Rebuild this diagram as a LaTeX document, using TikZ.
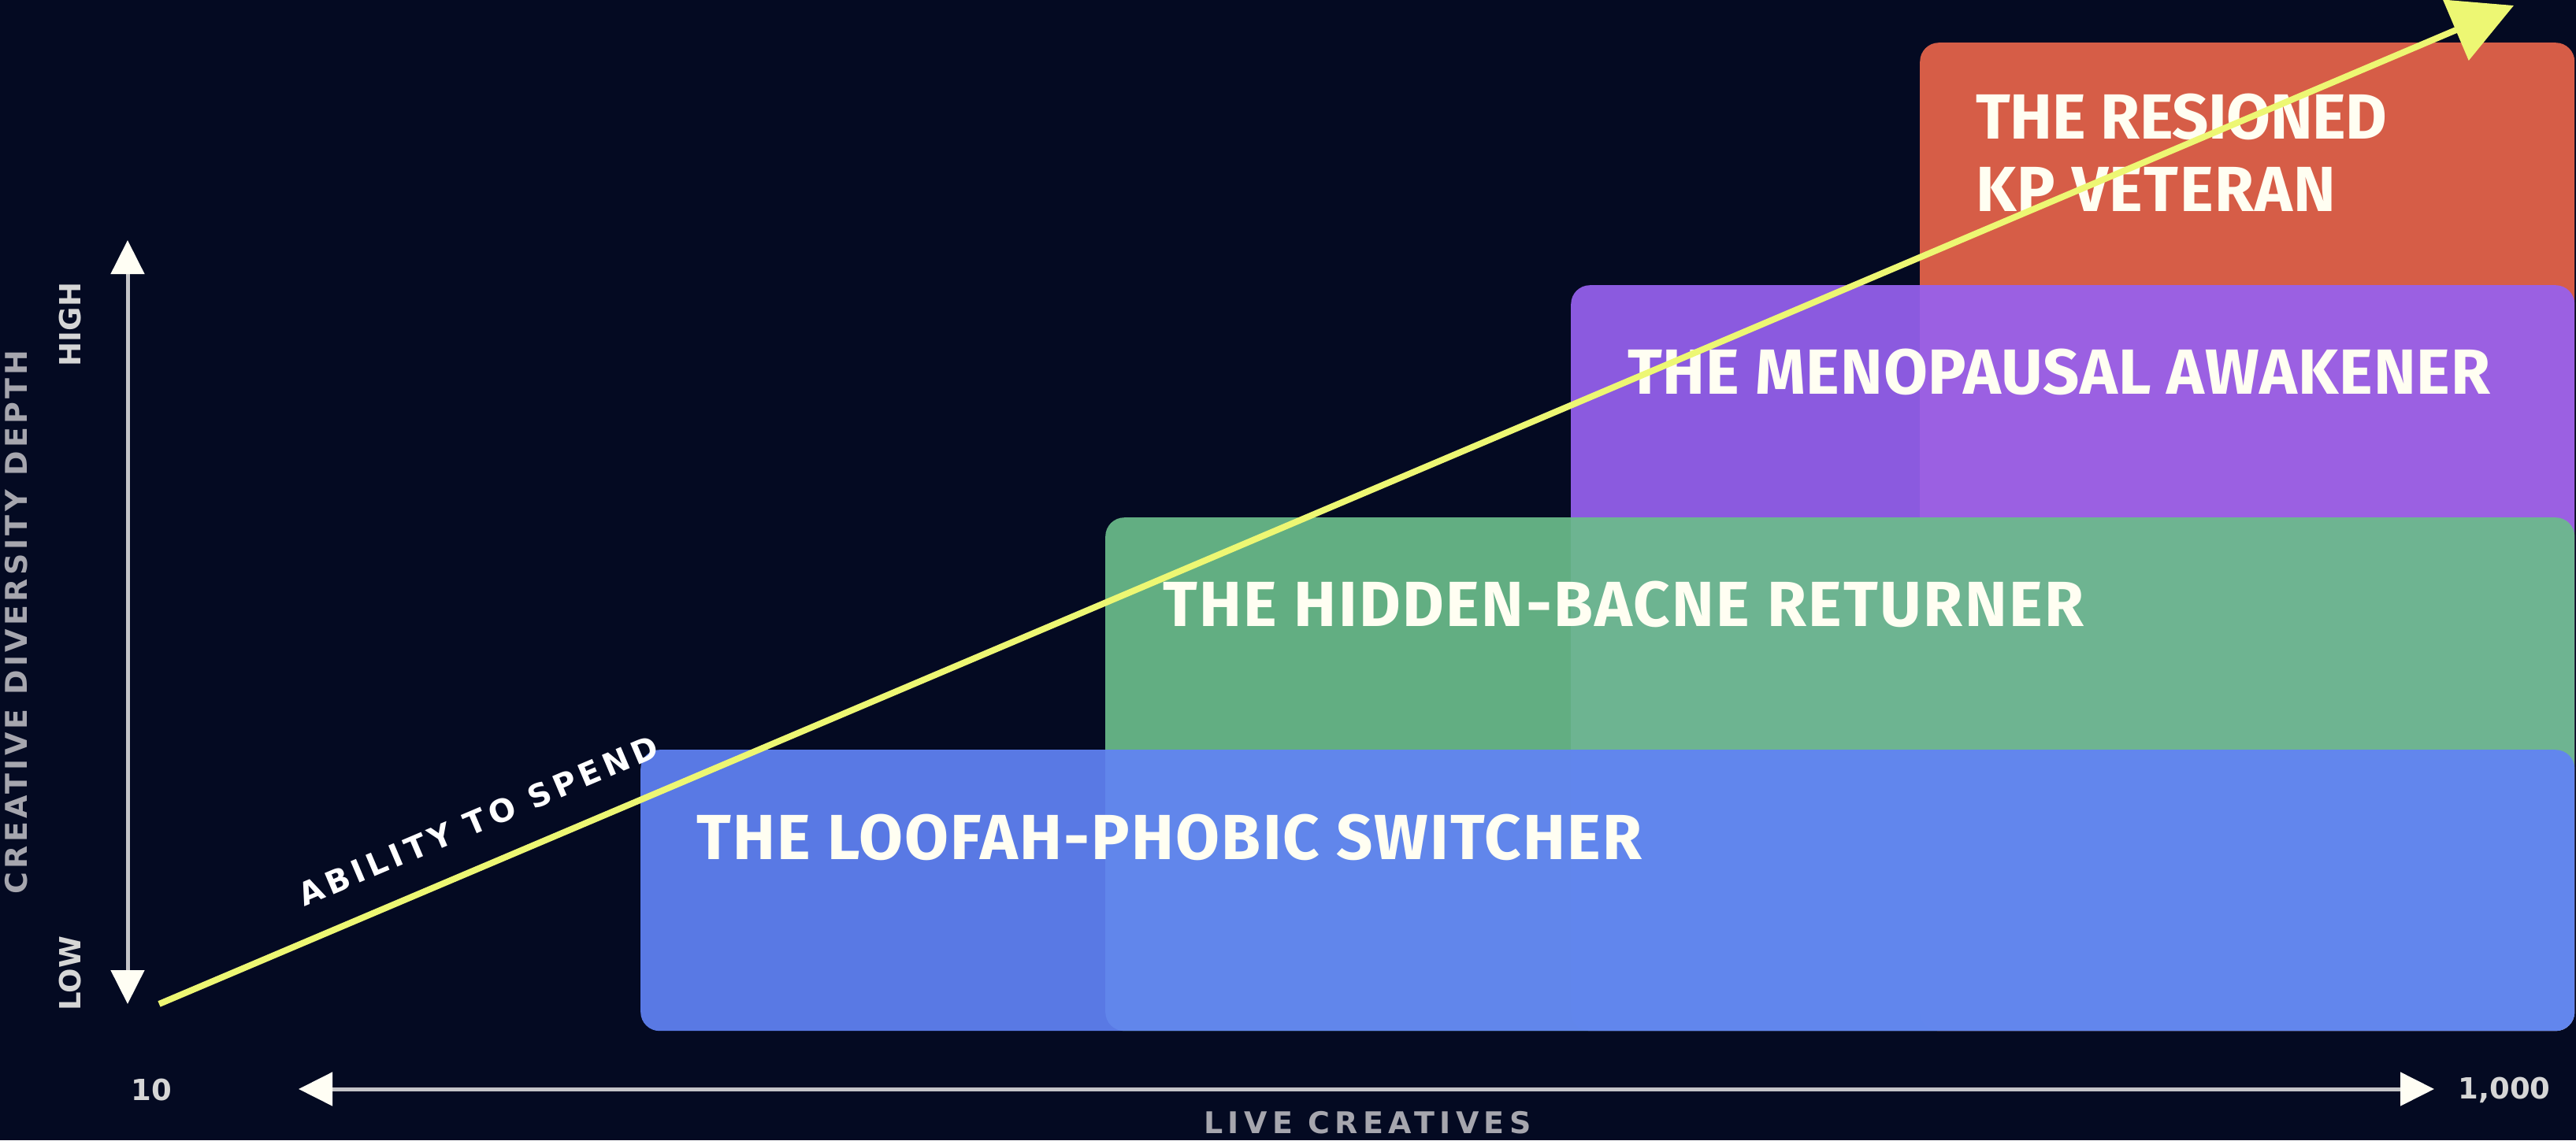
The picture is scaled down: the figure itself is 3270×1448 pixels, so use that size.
\documentclass[tikz,border=0pt]{standalone}
\usepackage{fontspec}
\usetikzlibrary{arrows.meta}
\newfontfamily\boxfont{Fira Sans}
\newfontfamily\axfont{DejaVu Sans}
\definecolor{bgc}{HTML}{040A22}
\definecolor{redc}{HTML}{E8654B}
\definecolor{purc}{HTML}{9761F0}
\definecolor{grnc}{HTML}{6BBC8B}
\definecolor{bluc}{HTML}{6183F5}
\definecolor{txtc}{HTML}{FFFEF2}
\definecolor{yelc}{HTML}{EDF773}
\definecolor{axlc}{HTML}{C4C4C8}
\definecolor{tipc}{HTML}{FFFEF4}
\definecolor{lblc}{HTML}{D6D6D6}
\definecolor{ttlc}{HTML}{A6A6AE}
\newcommand{\boxls}[1]{\boxfont\bfseries\addfontfeature{LetterSpace=#1}\fontsize{81}{92}\selectfont}
\tikzset{
  seg/.style={draw=none, fill opacity=0.92, rounded corners=24pt, inner sep=0pt, anchor=north west},
  segtext/.style={inner sep=0pt, anchor=base west, text=txtc},
  axisline/.style={draw=axlc, line width=5pt,
    {Triangle[length=43pt,width=42pt,color=tipc,fill=tipc]}-{Triangle[length=43pt,width=42pt,color=tipc,fill=tipc]}},
  spendline/.style={draw=yelc, line width=8pt, -{Triangle[length=80pt,width=82pt,color=yelc,fill=yelc]}},
  endlbl/.style={inner sep=0pt, text=lblc, font=\axfont\bfseries\fontsize{37}{40}\selectfont},
  ttl/.style={inner sep=0pt, text=ttlc},
}
\begin{document}
\begin{tikzpicture}[x=1pt,y=-1pt]
\useasboundingbox (0,0) rectangle (3270,1448);
\fill[bgc] (0,0) rectangle (3270,1448);
% segment boxes
\node[seg, fill=redc, minimum width=831pt, minimum height=1255pt] (redbox) at (2437,54) {};
\node[seg, fill=purc, minimum width=1274pt, minimum height=947pt] (purbox) at (1994,362) {};
\node[seg, fill=grnc, minimum width=1865pt, minimum height=652pt] (grnbox) at (1403,657) {};
\node[seg, fill=bluc, minimum width=2455pt, minimum height=357pt] (blubox) at (813,952) {};
% box labels
\node[segtext, font=\boxls{-0.5}] (redt1) at (2508,176) {THE RESIONED};
\node[segtext, font=\boxls{1.8}] (redt2) at (2508,268) {KP VETERAN};
\node[segtext, font=\boxls{1.1}] (purt) at (2066,500) {THE MENOPAUSAL AWAKENER};
\node[segtext, font=\boxls{3.0}] (grnt) at (1476,795) {THE HIDDEN-BACNE RETURNER};
\node[segtext, font=\boxls{2.7}] (blut) at (884,1091) {THE LOOFAH-PHOBIC SWITCHER};
% axes
\coordinate (ylow) at (162,1275);
\coordinate (yhigh) at (162,305);
\coordinate (xlow) at (379,1383);
\coordinate (xhigh) at (3090,1383);
\draw[axisline] (ylow) -- (yhigh);
\draw[axisline] (xlow) -- (xhigh);
\node[endlbl, rotate=90] (high) at (89,412) {HIGH};
\node[endlbl, rotate=90] (low) at (89,1236) {LOW};
\node[endlbl] (ten) at (192,1384) {10};
\node[endlbl] (thousand) at (3179,1384) {1,000};
\node[ttl, rotate=90, font=\axfont\bfseries\addfontfeature{LetterSpace=11.5}\fontsize{38}{40}\selectfont] (ytitle) at (21,790) {CREATIVE DIVERSITY DEPTH};
\node[ttl, font=\axfont\bfseries\addfontfeature{LetterSpace=16.6}\fontsize{38}{40}\selectfont] (xtitle) at (1736,1426) {LIVE CREATIVES};
% ability to spend
\coordinate (sstart) at (202,1275);
\coordinate (send) at (3191,7);
\draw[spendline] (sstart) -- (send);
\node[inner sep=0pt, text=white, rotate=23, font=\axfont\bfseries\addfontfeature{LetterSpace=15}\fontsize{40}{42}\selectfont] (spend) at (607,1042) {ABILITY TO SPEND};
\end{tikzpicture}
\end{document}
